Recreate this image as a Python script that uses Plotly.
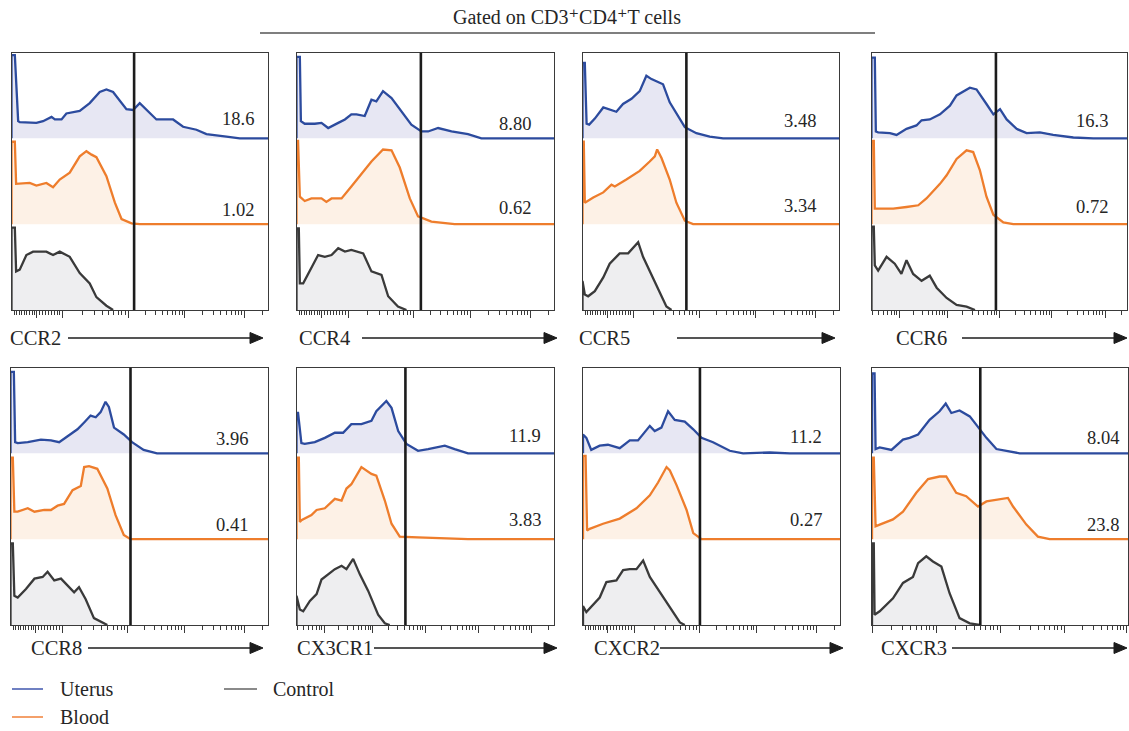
import math
import plotly.graph_objects as go

W, H = 1129, 731

# ---------------- data ----------------
markers = ["CCR2", "CCR4", "CCR5", "CCR6", "CCR8", "CX3CR1", "CXCR2", "CXCR3"]
percent_uterus = ["18.6", "8.80", "3.48", "16.3", "3.96", "11.9", "11.2", "8.04"]
percent_blood = ["1.02", "0.62", "3.34", "0.72", "0.41", "3.83", "0.27", "23.8"]
gate_channel = [478, 483, 405, 487, 466, 423, 455, 423]
samples = ["Uterus", "Blood", "Control"]

# histograms: (display channel 0-1000, normalized count 0-1)
ccr2_uterus = [(0, 0), (0, .97), (13, .97), (26, .2), (32, .19), (97, .18), (123, .2), (156, .25), (169, .22), (195, .22), (214, .29), (266, .32), (305, .41), (344, .54), (370, .57), (396, .54), (448, .34), (474, .33), (500, .41), (526, .33), (565, .22), (630, .22), (669, .135), (721, .1), (760, .05), (838, .02), (890, 0), (1000, 0)]
ccr2_blood = [(0, 0), (0, .96), (13, .96), (18, .47), (71, .48), (97, .45), (136, .48), (162, .43), (188, .52), (227, .6), (266, .79), (292, .85), (312, .81), (331, .78), (370, .56), (403, .25), (429, .06), (468, .01), (500, 0), (1000, 0)]
ccr2_control = [(0, 0), (0, .96), (13, .96), (18, .45), (32, .47), (58, .64), (84, .68), (136, .68), (162, .64), (188, .68), (227, .62), (266, .43), (305, .31), (331, .15), (370, .05), (396, 0)]

ccr4_uterus = [(0, 0), (0, .95), (13, .95), (17, .2), (32, .17), (71, .17), (97, .18), (123, .12), (162, .18), (188, .22), (213, .28), (233, .28), (265, .26), (291, .45), (310, .43), (336, .55), (369, .47), (407, .32), (446, .16), (485, .08), (511, .08), (550, .12), (602, .08), (666, .05), (718, 0), (1000, 0)]
ccr4_blood = [(0, 0), (0, .97), (6, .97), (13, .32), (32, .27), (58, .3), (97, .3), (116, .26), (136, .3), (175, .3), (213, .44), (252, .58), (291, .73), (336, .87), (369, .86), (401, .66), (440, .3), (472, .09), (524, .03), (614, 0), (1000, 0)]
ccr4_control = [(0, 0), (0, .95), (9, .95), (13, .31), (26, .31), (58, .49), (84, .64), (110, .62), (136, .64), (162, .72), (188, .68), (213, .7), (259, .66), (291, .45), (330, .41), (356, .16), (394, .04), (427, 0)]

ccr5_uterus = [(0, 0), (0, .88), (9, .88), (16, .17), (26, .16), (48, .23), (81, .36), (100, .34), (132, .31), (158, .4), (191, .46), (223, .55), (249, .73), (269, .69), (295, .65), (314, .63), (340, .42), (366, .29), (399, .13), (444, .06), (496, .02), (548, 0), (1000, 0)]
ccr5_blood = [(0, 0), (0, .96), (5, .96), (9, .25), (42, .31), (81, .37), (113, .46), (126, .44), (171, .52), (223, .62), (262, .73), (282, .79), (291, .87), (308, .77), (340, .52), (366, .25), (399, .04), (431, 0), (1000, 0)]
ccr5_control = [(0, 0), (0, .34), (9, .18), (22, .16), (48, .22), (81, .38), (106, .54), (145, .66), (178, .66), (217, .79), (236, .62), (262, .46), (301, .22), (327, .04), (347, 0)]

ccr6_uterus = [(0, 0), (0, .94), (13, .94), (17, .08), (26, .07), (72, .06), (98, .04), (137, .11), (176, .15), (196, .21), (228, .22), (268, .28), (307, .38), (333, .5), (385, .59), (411, .57), (450, .4), (477, .28), (503, .34), (529, .22), (568, .11), (607, .06), (659, .07), (711, .04), (790, .01), (868, 0), (1000, 0)]
ccr6_blood = [(0, 0), (0, .97), (9, .97), (13, .18), (20, .18), (85, .18), (137, .2), (183, .22), (215, .3), (268, .47), (294, .57), (333, .76), (372, .86), (398, .84), (424, .63), (450, .32), (477, .11), (516, .02), (555, 0), (1000, 0)]
ccr6_control = [(0, 0), (0, .97), (9, .97), (13, .52), (26, .46), (59, .62), (91, .54), (117, .42), (137, .58), (163, .42), (196, .34), (228, .4), (255, .26), (294, .14), (333, .06), (372, .04), (405, 0)]

ccr8_uterus = [(0, 0), (0, .95), (13, .95), (18, .13), (28, .12), (67, .13), (118, .16), (157, .15), (189, .13), (221, .2), (260, .28), (286, .36), (311, .44), (331, .42), (350, .48), (369, .6), (382, .54), (402, .3), (440, .22), (472, .13), (517, .04), (569, 0), (1000, 0)]
ccr8_blood = [(0, 0), (0, .95), (9, .95), (15, .32), (28, .32), (67, .36), (93, .32), (131, .34), (157, .34), (183, .39), (208, .41), (241, .57), (273, .62), (286, .84), (305, .85), (337, .82), (376, .59), (408, .28), (440, .05), (466, 0), (1000, 0)]
ccr8_control = [(0, 0), (0, .95), (9, .95), (15, .34), (28, .32), (60, .42), (93, .54), (125, .56), (144, .62), (170, .52), (196, .54), (221, .46), (247, .38), (266, .44), (292, .3), (324, .08), (363, .02), (376, 0)]

cx3cr1_uterus = [(0, 0), (0, .47), (6, .47), (19, .12), (32, .11), (71, .13), (110, .18), (149, .24), (181, .24), (213, .34), (252, .34), (291, .38), (310, .49), (349, .61), (369, .53), (395, .26), (427, .11), (472, .03), (511, .05), (576, .09), (614, .05), (666, 0), (1000, 0)]
cx3cr1_blood = [(0, 0), (0, .95), (9, .95), (13, .2), (19, .22), (58, .28), (78, .34), (110, .36), (149, .47), (175, .45), (194, .59), (213, .64), (252, .84), (291, .76), (310, .74), (343, .45), (369, .18), (401, .03), (472, .02), (666, 0), (1000, 0)]
cx3cr1_control = [(0, 0), (0, .34), (13, .18), (26, .16), (52, .28), (78, .36), (97, .53), (123, .59), (149, .65), (175, .69), (194, .65), (220, .77), (246, .59), (278, .4), (317, .12), (343, .02), (362, 0)]

cxcr2_uterus = [(0, 0), (0, .22), (13, .18), (32, .04), (65, .09), (97, .1), (143, .06), (182, .15), (214, .15), (260, .32), (279, .26), (305, .3), (331, .49), (357, .39), (396, .37), (429, .28), (461, .18), (506, .13), (571, .03), (623, 0), (727, .01), (805, 0), (1000, 0)]
cxcr2_blood = [(0, 0), (0, .97), (10, .97), (16, .1), (26, .12), (78, .18), (143, .24), (208, .36), (260, .51), (292, .66), (325, .84), (338, .8), (364, .63), (403, .34), (429, .07), (461, 0), (1000, 0)]
cxcr2_control = [(0, 0), (0, .22), (13, .15), (39, .24), (65, .32), (91, .5), (130, .52), (156, .64), (182, .65), (208, .65), (234, .75), (260, .56), (299, .38), (338, .2), (377, .03), (396, 0)]

cxcr3_uterus = [(0, 0), (0, .93), (10, .93), (14, .05), (30, .07), (76, .04), (121, .16), (147, .18), (180, .22), (225, .39), (264, .49), (288, .58), (310, .47), (342, .5), (382, .43), (414, .3), (447, .18), (486, .05), (538, .02), (577, 0), (1000, 0)]
cxcr3_blood = [(0, 0), (0, .95), (7, .95), (14, .15), (30, .17), (82, .23), (121, .32), (173, .54), (219, .7), (264, .73), (290, .73), (329, .54), (368, .5), (414, .38), (447, .44), (486, .46), (531, .48), (551, .38), (603, .17), (648, .03), (694, 0), (1000, 0)]
cxcr3_control = [(0, 0), (0, .95), (7, .95), (10, .12), (30, .16), (82, .31), (121, .49), (160, .56), (180, .72), (212, .8), (238, .74), (271, .68), (303, .37), (342, .08), (382, .02), (421, 0)]

histograms = {
    "CCR2": (ccr2_uterus, ccr2_blood, ccr2_control),
    "CCR4": (ccr4_uterus, ccr4_blood, ccr4_control),
    "CCR5": (ccr5_uterus, ccr5_blood, ccr5_control),
    "CCR6": (ccr6_uterus, ccr6_blood, ccr6_control),
    "CCR8": (ccr8_uterus, ccr8_blood, ccr8_control),
    "CX3CR1": (cx3cr1_uterus, cx3cr1_blood, cx3cr1_control),
    "CXCR2": (cxcr2_uterus, cxcr2_blood, cxcr2_control),
    "CXCR3": (cxcr3_uterus, cxcr3_blood, cxcr3_control),
}

# ---------------- layout / style ----------------
FONT = "Liberation Serif, DejaVu Serif, serif"
TXT = "#262626"
line_colors = ["#2c4b9e", "#ee7d2c", "#3a3a3a"]
fill_colors = ["#e7e7f3", "#fdf1e6", "#eeeef0"]
legend_colors = ["#6f80c2", "#f4a06a", "#8a8a8a"]
band_base = [2, 1, 0]

# panel boxes in pixels: (left, right, top, bottom)
row_tb = [(52.5, 310), (367.5, 625)]
panel_lr = [(11.5, 268), (296.5, 554), (582.5, 839), (871.5, 1127),
            (10.5, 268), (296.5, 554), (583, 840), (872, 1128)]
label_x = [955, 918, 918, 933, 930, 957, 938, 974]
label_y_uterus = [0.22, 0.17, 0.20, 0.20, 0.17, 0.20, 0.19, 0.18]
label_y_blood = [0.17, 0.19, 0.21, 0.20, 0.17, 0.22, 0.22, 0.17]
name_x = [9, 298, 578, 895, 30, 296, 593, 880]
arrow_tail = [68, 362, 677, 962, 88, 374, 660, 952]
arrow_head = [263, 557, 835, 1127, 263, 557, 843, 1127]
name_y = [338, 648]
tick_type = ["A", "A", "A", "B", "A", "B", "A", "C"]
# legend key positions in pixels: (line x0, line x1, text x, y)
legend_pos = [(12, 43, 58, 689), (12, 43, 58, 717), (224, 257, 271, 689)]


def log_minor(a, b):
    return [a + (b - a) * math.log10(k) for k in range(2, 10)]


def make_ticks(kind):
    if kind == "A":
        majors = [97, 200, 455, 675, 909]
        minors = [10 * k for k in range(1, 10)] + [97 + 11.5 * k for k in range(1, 9)]
        for a, b in zip(majors[1:-1], majors[2:]):
            minors += log_minor(a, b)
        minors += [m for m in log_minor(909, 1143) if m <= 1000]
    elif kind == "B":
        majors = [108, 296, 500, 705, 914]
        minors = [m for m in log_minor(-92, 108) if m > 2]
        for a, b in zip(majors[:-1], majors[1:]):
            minors += log_minor(a, b)
        minors += [m for m in log_minor(914, 1124) if m <= 1000]
    else:
        majors = [0, 250, 500, 750, 995]
        minors = []
        for a, b in zip(majors[:-1], majors[1:]):
            minors += log_minor(a, b)
    return majors, minors


def px(x):
    return x / W


def py(y):
    return 1 - y / H


fig = go.Figure()
layout = dict(
    width=W, height=H, margin=dict(l=0, r=0, t=0, b=0),
    paper_bgcolor="white", plot_bgcolor="white",
    font=dict(family=FONT, color=TXT, size=17),
    showlegend=False,
)
annotations = []
shapes = []
AH_LEN, AH_HALF = 13, 5.5

for i, m in enumerate(markers):
    n = i + 1
    xa = "x" if n == 1 else f"x{n}"
    ya = "y" if n == 1 else f"y{n}"
    xkey = "xaxis" if n == 1 else f"xaxis{n}"
    ykey = "yaxis" if n == 1 else f"yaxis{n}"
    left, right = panel_lr[i]
    top, bottom = row_tb[i // 4]
    majors, minors = make_ticks(tick_type[i])
    layout[xkey] = dict(
        domain=[px(left), px(right)], range=[0, 1000], anchor=ya,
        showline=True, mirror=True, linecolor="#3a3a3a", linewidth=1.3,
        showgrid=False, zeroline=False, showticklabels=False,
        ticks="outside", tickmode="array", tickvals=majors, ticklen=7,
        tickwidth=1.2, tickcolor="#3a3a3a",
        minor=dict(tickmode="array", tickvals=minors, ticks="outside",
                   ticklen=3.5, tickwidth=1, tickcolor="#3a3a3a", showgrid=False),
        fixedrange=True,
    )
    layout[ykey] = dict(
        domain=[py(bottom), py(top)], range=[0, 3], anchor=xa,
        showline=True, mirror=True, linecolor="#3a3a3a", linewidth=1.3,
        showgrid=False, zeroline=False, showticklabels=False, ticks="",
        fixedrange=True,
    )
    for j, pts in enumerate(histograms[m]):
        xs = [p[0] for p in pts]
        ys = [band_base[j] + p[1] for p in pts]
        fig.add_trace(go.Scatter(
            x=xs + [xs[-1], xs[0]], y=ys + [band_base[j], band_base[j]],
            mode="lines", fill="toself", fillcolor=fill_colors[j],
            line=dict(width=0, color=fill_colors[j]), hoverinfo="skip",
            showlegend=False, xaxis=xa, yaxis=ya))
        fig.add_trace(go.Scatter(
            x=xs, y=ys, mode="lines", name=f"{samples[j]} {m}",
            line=dict(color=line_colors[j], width=2.3), showlegend=False,
            xaxis=xa, yaxis=ya))
    # gate line
    shapes.append(dict(type="line", xref=xa, yref=ya, x0=gate_channel[i], x1=gate_channel[i],
                       y0=0, y1=3, line=dict(color="#1c1c1c", width=2.6)))
    # percentages
    annotations.append(dict(xref=xa, yref=ya, x=label_x[i], y=2 + label_y_uterus[i],
                            text=percent_uterus[i], showarrow=False, xanchor="right",
                            yanchor="middle", font=dict(size=18.5, color=TXT, family=FONT)))
    annotations.append(dict(xref=xa, yref=ya, x=label_x[i], y=1 + label_y_blood[i],
                            text=percent_blood[i], showarrow=False, xanchor="right",
                            yanchor="middle", font=dict(size=18.5, color=TXT, family=FONT)))
    # marker name + arrow
    ny = name_y[i // 4]
    annotations.append(dict(xref="paper", yref="paper", x=px(name_x[i] - 1), y=py(ny),
                            text=m, showarrow=False, xanchor="left", yanchor="middle",
                            font=dict(size=20.5, color=TXT, family=FONT)))
    hx = arrow_head[i]
    shapes.append(dict(type="line", xref="paper", yref="paper",
                       x0=px(arrow_tail[i]), x1=px(hx - AH_LEN + 1), y0=py(ny), y1=py(ny),
                       line=dict(color="#1c1c1c", width=1.5)))
    shapes.append(dict(type="path", xref="paper", yref="paper",
                       path=(f"M{px(hx - AH_LEN)},{py(ny - AH_HALF)} L{px(hx)},{py(ny)} "
                             f"L{px(hx - AH_LEN)},{py(ny + AH_HALF)} Z"),
                       fillcolor="#1c1c1c", line=dict(color="#1c1c1c", width=1)))

# title
annotations.append(dict(xref="paper", yref="paper", x=px(567), y=py(17),
                        text="Gated on CD3\u207aCD4\u207aT cells",
                        showarrow=False, xanchor="center", yanchor="middle",
                        font=dict(size=20, color=TXT, family=FONT)))
shapes.append(dict(type="line", xref="paper", yref="paper", x0=px(260), x1=px(875),
                   y0=py(33), y1=py(33), line=dict(color="#555555", width=1.4)))

# legend keys
for j, s in enumerate(samples):
    x0, x1, tx, ly = legend_pos[j]
    shapes.append(dict(type="line", xref="paper", yref="paper", x0=px(x0), x1=px(x1),
                       y0=py(ly), y1=py(ly), line=dict(color=legend_colors[j], width=2)))
    annotations.append(dict(xref="paper", yref="paper", x=px(tx), y=py(ly), text=s,
                            showarrow=False, xanchor="left", yanchor="middle",
                            font=dict(size=20, color=TXT, family=FONT)))

layout["annotations"] = annotations
layout["shapes"] = shapes
fig.update_layout(**layout)

fig.write_html("out.html")
